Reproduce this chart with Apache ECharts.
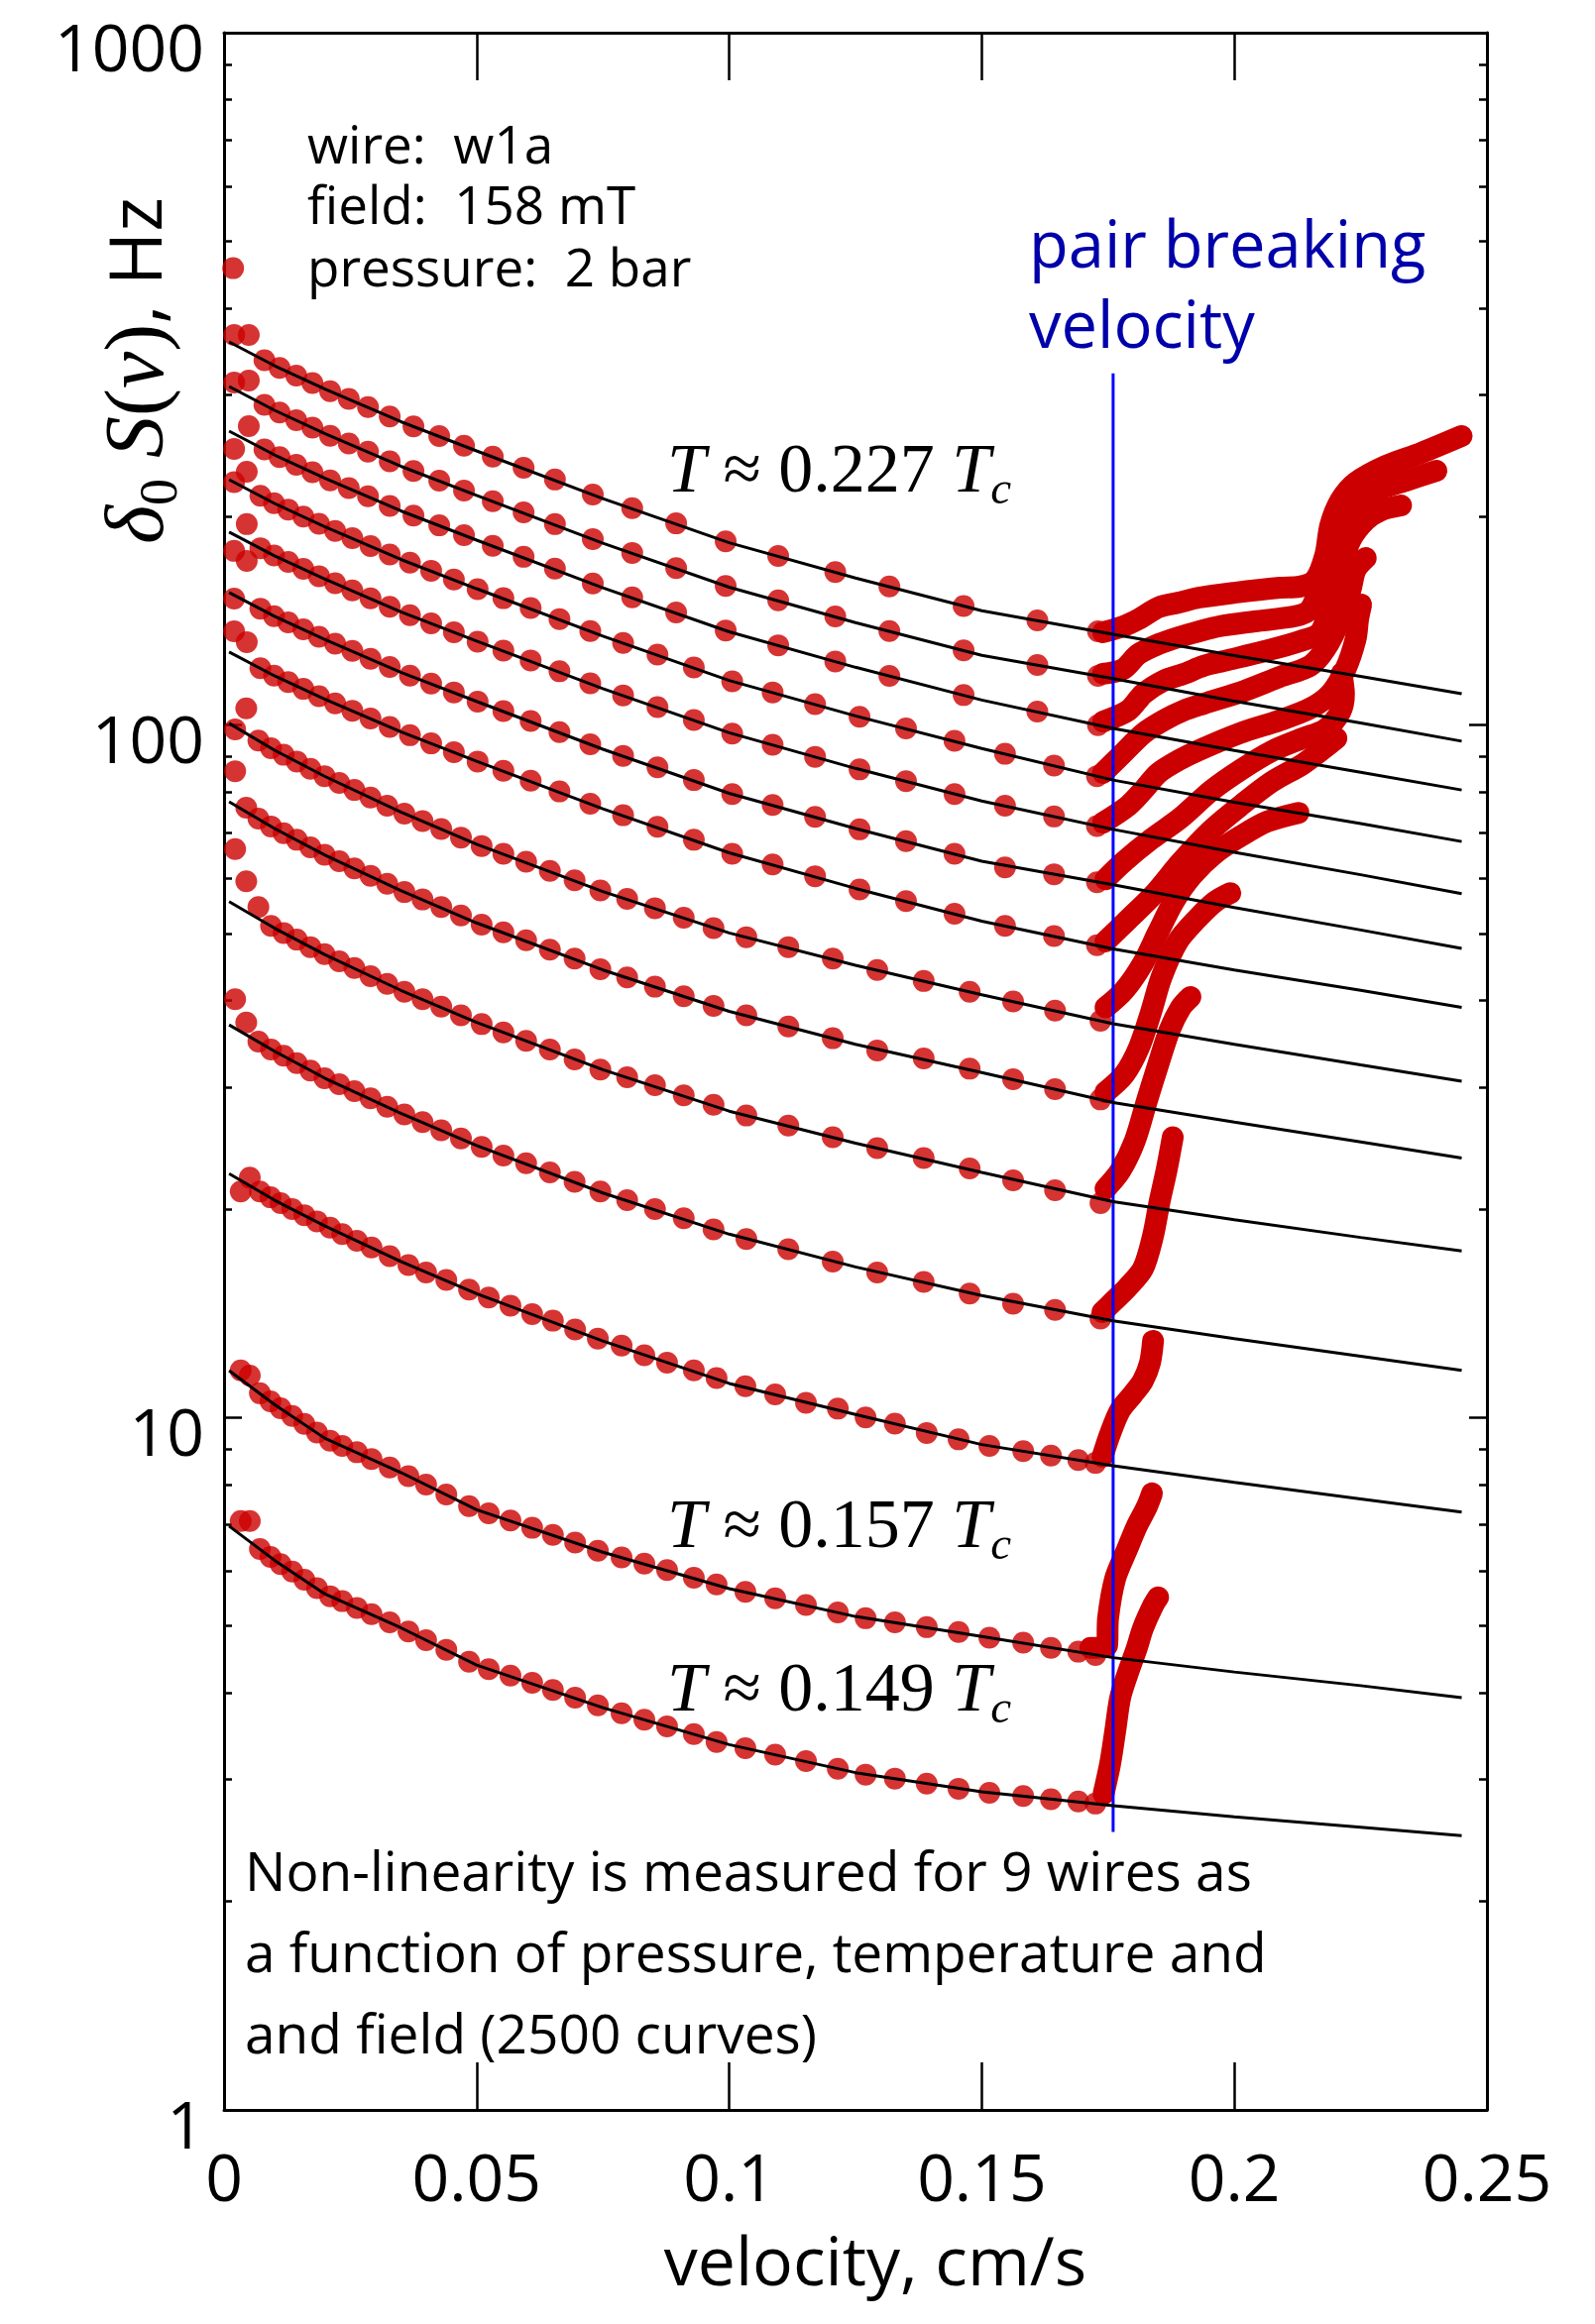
<!DOCTYPE html>
<html>
<head>
<meta charset="utf-8">
<script src="https://cdn.jsdelivr.net/npm/echarts@6/dist/echarts.min.js"></script>
<style>
  html, body { margin: 0; padding: 0; background: #fff; }
  #chart { width: 1609px; height: 2345px; }
</style>
</head>
<body>
<div id="chart"></div>
<script>
// velocity grid of the black fit curves (cm/s)
var fitV = [0.001, 0.01, 0.02, 0.035, 0.05, 0.075, 0.1, 0.125, 0.15, 0.176, 0.2, 0.225, 0.245];

// fit curves, top (T = 0.227 Tc) to bottom (T = 0.149 Tc), Hz
var fitLines = [
  [357.6, 330.4, 305.7, 274.3, 248.9, 212.4, 183.4, 163.1, 146.3, 135.3, 126.0, 117.6, 111.0],
  [308.3, 284.9, 263.6, 236.5, 214.6, 183.1, 158.2, 140.6, 126.1, 116.7, 108.3, 100.7, 94.8],
  [265.8, 245.6, 227.3, 203.9, 185.0, 157.9, 136.4, 121.2, 108.7, 98.9, 91.9, 85.5, 80.6],
  [226.2, 209.0, 193.4, 173.5, 157.4, 134.4, 116.0, 103.1, 92.5, 83.3, 77.4, 72.1, 67.9],
  [190.0, 175.6, 162.5, 145.7, 132.2, 112.9, 97.5, 86.6, 77.7, 70.7, 65.5, 60.8, 57.1],
  [155.4, 143.6, 132.9, 119.2, 108.2, 92.3, 79.7, 70.9, 63.6, 58.8, 54.5, 50.6, 47.6],
  [127.5, 117.8, 109.0, 97.8, 88.7, 75.7, 65.4, 58.1, 52.1, 47.5, 44.3, 41.4, 39.1],
  [100.6, 92.0, 84.3, 74.9, 67.3, 57.5, 50.1, 45.0, 40.8, 37.05, 34.6, 32.3, 30.6],
  [77.5, 70.9, 64.9, 57.7, 51.8, 44.3, 38.6, 34.6, 31.5, 28.5, 26.7, 25.0, 23.7],
  [55.6, 50.9, 46.6, 41.4, 37.2, 31.8, 27.7, 24.9, 22.6, 20.5, 19.3, 18.2, 17.4],
  [36.9, 33.8, 30.9, 27.5, 24.7, 21.1, 18.4, 16.5, 15.0, 13.79, 13.0, 12.26, 11.7],
  [22.5, 20.6, 18.9, 16.8, 15.1, 12.9, 11.2, 10.1, 9.14, 8.52, 8.06, 7.63, 7.30],
  [11.69, 10.44, 9.33, 8.33, 7.36, 6.39, 5.66, 5.16, 4.83, 4.50, 4.29, 4.10, 3.94],
  [6.97, 6.22, 5.56, 4.97, 4.39, 3.81, 3.37, 3.07, 2.88, 2.75, 2.65, 2.56, 2.49]
];

// drive velocities of the measured points below pair breaking
var velA = [0.002, 0.0049, 0.008, 0.011, 0.0143, 0.0175, 0.021, 0.0247, 0.0285, 0.0328, 0.0375, 0.0426, 0.0475,
  0.0532, 0.0593, 0.0655, 0.073, 0.0808, 0.0895, 0.0993, 0.1097, 0.121, 0.1317, 0.1464, 0.161, 0.173];
var velB = [0.002, 0.0045, 0.0072, 0.0099, 0.0127, 0.0157, 0.0188, 0.022, 0.0254, 0.029, 0.0328, 0.0368, 0.041,
  0.0455, 0.0502, 0.0553, 0.0607, 0.0664, 0.0725, 0.079, 0.0858, 0.093, 0.1006, 0.1086, 0.117, 0.1258, 0.135,
  0.1446, 0.1546, 0.1643, 0.1728];
var velC = [0.0022, 0.0044, 0.0068, 0.0093, 0.0118, 0.0144, 0.0171, 0.0199, 0.0228, 0.0258, 0.029, 0.0323, 0.0357,
  0.0393, 0.043, 0.0469, 0.051, 0.0553, 0.0598, 0.0645, 0.0694, 0.0745, 0.0798, 0.0853, 0.091, 0.0969, 0.1034,
  0.1117, 0.1205, 0.1293, 0.1385, 0.1476, 0.1562, 0.1645, 0.1735];
var velD = [0.0033, 0.0051, 0.0071, 0.0092, 0.0112, 0.0135, 0.0159, 0.0184, 0.021, 0.0234, 0.0263, 0.0292, 0.0328,
  0.0365, 0.04, 0.044, 0.0485, 0.0524, 0.0567, 0.061, 0.0651, 0.0695, 0.074, 0.0787, 0.0832, 0.0877, 0.093,
  0.0975, 0.1032, 0.1091, 0.1152, 0.1215, 0.127, 0.1328, 0.1391, 0.1454, 0.1515, 0.1582, 0.1637, 0.1691, 0.1725];
var velOf = [velA, velA, velA, velB, velB, velB, velB, velC, velC, velC, velC, velD, velD, velD];

// measured S(v) below pair breaking, Hz
var dotY = [
  [366, 366, 336.5, 327.9, 319.8, 311.9, 303.6, 295.9, 287.9, 279.0, 270.1, 261.5, 253.2, 244.2, 235.3, 226.3, 215.3, 205.7, 195.6, 184.2, 175.5, 166.4, 158.6, 148.6, 141.7, 136.6],
  [312.5, 314.6, 290.1, 282.8, 275.7, 268.9, 261.8, 255.1, 248.2, 240.4, 232.8, 225.4, 218.2, 210.6, 202.9, 195.1, 185.6, 177.3, 168.6, 158.8, 151.4, 143.5, 136.7, 128.2, 122.1, 117.8],
  [250.6, 270.3, 250.1, 243.8, 237.7, 231.9, 225.7, 220.0, 214.0, 207.3, 200.7, 194.3, 188.1, 181.5, 175.0, 168.3, 160.2, 152.9, 145.4, 137.0, 130.4, 123.6, 117.8, 110.5, 104.6, 100.0],
  [224.3, 232.3, 214.4, 209.2, 204.8, 200.1, 195.3, 190.7, 186.2, 181.4, 176.4, 171.6, 167.1, 162.3, 157.2, 152.5, 147.6, 142.3, 136.7, 131.4, 126.4, 121.1, 115.7, 111.5, 107.2, 102.8, 98.9, 94.9, 90.9, 87.4, 84.4],
  [178.5, 195.1, 180.1, 175.8, 172.1, 168.1, 164.1, 160.3, 156.5, 152.4, 148.2, 144.1, 140.3, 136.2, 132.0, 128.1, 124.0, 119.6, 114.9, 110.4, 106.2, 101.7, 97.2, 93.7, 90.0, 86.3, 83.0, 79.5, 76.5, 73.8, 71.5],
  [152.3, 172.7, 147.3, 143.7, 140.7, 137.5, 134.2, 131.1, 128.0, 124.7, 121.3, 117.9, 114.8, 111.5, 108.1, 104.8, 101.4, 97.7, 93.8, 90.3, 86.9, 83.3, 79.5, 76.7, 73.7, 70.7, 68.0, 65.2, 62.3, 60.9, 59.3],
  [136.6, 131.8, 120.8, 117.9, 115.4, 112.8, 110.1, 107.5, 104.9, 102.2, 99.4, 96.7, 94.1, 91.4, 88.6, 85.9, 83.1, 80.2, 77.0, 74.1, 71.3, 68.3, 65.2, 62.9, 60.5, 57.9, 55.7, 53.4, 51.3, 49.6, 48.1],
  [98.6, 105.7, 95.0, 92.6, 90.6, 88.6, 86.5, 84.4, 82.5, 80.6, 78.6, 76.5, 74.5, 72.7, 70.8, 68.8, 66.9, 65.2, 63.5, 61.6, 59.7, 57.7, 56.1, 54.4, 52.7, 50.9, 49.4, 47.8, 46.0, 44.3, 42.7, 41.2, 39.9, 38.7, 37.4],
  [85.8, 76.0, 73.3, 71.4, 69.8, 68.3, 66.6, 65.0, 63.6, 62.1, 60.6, 59.0, 57.4, 56.0, 54.6, 53.1, 51.5, 50.2, 48.9, 47.4, 46.0, 44.4, 43.2, 41.9, 40.6, 39.3, 38.1, 36.7, 35.3, 33.9, 33.0, 31.9, 30.8, 29.8, 28.8],
  [66.2, 59.5, 54.6, 51.3, 50.1, 49.0, 47.8, 46.7, 45.6, 44.6, 43.4, 42.3, 41.2, 40.2, 39.2, 38.1, 37.0, 36.0, 35.0, 34.0, 32.9, 31.8, 31.0, 30.2, 29.2, 28.3, 27.3, 26.4, 25.4, 24.5, 23.7, 22.9, 22.0, 21.3, 20.4],
  [40.2, 37.2, 34.9, 34.0, 33.3, 32.5, 31.7, 30.9, 30.3, 29.6, 28.9, 28.1, 27.4, 26.7, 26.0, 25.3, 24.6, 23.9, 23.3, 22.6, 21.9, 21.2, 20.6, 20.0, 19.4, 18.7, 18.1, 17.5, 16.8, 16.2, 15.7, 15.1, 14.6, 14.3, 13.9],
  [21.2, 22.2, 21.2, 20.8, 20.4, 20.0, 19.6, 19.2, 18.8, 18.4, 18.0, 17.6, 17.1, 16.6, 16.2, 15.8, 15.3, 14.9, 14.5, 14.1, 13.8, 13.4, 13.0, 12.7, 12.3, 12.0, 11.7, 11.4, 11.1, 10.8, 10.5, 10.3, 10.0, 9.8, 9.5, 9.3, 9.10, 8.94, 8.81, 8.68, 8.60],
  [11.7, 11.5, 10.84, 10.55, 10.31, 10.05, 9.79, 9.51, 9.26, 9.10, 8.91, 8.71, 8.47, 8.23, 8.00, 7.74, 7.45, 7.27, 7.10, 6.93, 6.77, 6.60, 6.42, 6.28, 6.15, 6.02, 5.87, 5.74, 5.60, 5.48, 5.36, 5.23, 5.13, 5.06, 4.98, 4.90, 4.81, 4.73, 4.65, 4.59, 4.54],
  [7.09, 7.09, 6.46, 6.29, 6.14, 5.99, 5.83, 5.67, 5.52, 5.43, 5.31, 5.20, 5.06, 4.91, 4.77, 4.62, 4.44, 4.33, 4.24, 4.14, 4.04, 3.94, 3.84, 3.74, 3.66, 3.58, 3.49, 3.40, 3.33, 3.26, 3.19, 3.11, 3.05, 3.01, 2.96, 2.91, 2.87, 2.84, 2.81, 2.79, 2.77]
];

// one stray point at the very start of the top curve
var strayDots = [[0.0018, 457]];

// dense points above pair breaking [v, Hz], drawn as a continuous band
var rise = [
  [[0.174,136.2],[0.178,138.9],[0.181,142.2],[0.185,147.9],[0.189,150.3],[0.193,152.8],[0.200,155.3],[0.209,157.9],[0.213,158.5],[0.216,162.2],[0.218,176.1],[0.219,194.4],[0.221,211.1],[0.224,224.0],[0.230,236.9],[0.237,247.3],[0.245,261.5]],
  [[0.174,118.6],[0.178,120.5],[0.181,126.6],[0.185,130.9],[0.189,134.0],[0.193,136.6],[0.197,138.9],[0.204,141.2],[0.212,143.6],[0.215,146.9],[0.217,159.5],[0.219,176.1],[0.221,194.4],[0.224,207.6],[0.228,218.2],[0.234,225.5],[0.240,233.0]],
  [[0.174,101.2],[0.179,105.0],[0.182,111.0],[0.186,115.9],[0.190,118.6],[0.194,121.8],[0.198,123.8],[0.206,127.9],[0.213,132.2],[0.217,136.2],[0.219,149.3],[0.221,167.6],[0.223,185.0],[0.226,197.6],[0.229,204.2],[0.233,207.6]],
  [[0.174,85.3],[0.177,89.6],[0.182,97.3],[0.186,101.6],[0.190,105.0],[0.194,107.4],[0.202,112.1],[0.209,117.4],[0.215,121.8],[0.218,128.8],[0.221,142.2],[0.223,156.9],[0.224,167.6],[0.226,174.3]],
  [[0.174,72.3],[0.179,76.5],[0.182,80.6],[0.185,85.3],[0.189,89.0],[0.193,92.0],[0.201,97.3],[0.209,101.6],[0.215,105.7],[0.219,111.0],[0.222,120.5],[0.224,133.1],[0.2245,142.2],[0.2251,149.3]],
  [[0.1745,59.9],[0.178,63.4],[0.1835,68.4],[0.1894,73.5],[0.1954,80.4],[0.2015,86.4],[0.2074,91.7],[0.2135,95.7],[0.218,98.6],[0.221,104.6],[0.2217,111.0],[0.2212,118.6]],
  [[0.1745,48.7],[0.179,52.4],[0.1843,57.2],[0.1894,63.4],[0.1954,70.5],[0.2015,76.8],[0.2074,82.8],[0.2135,87.8],[0.218,92.9],[0.2202,95.7]],
  [[0.1745,39.1],[0.1782,41.4],[0.1819,45.3],[0.1849,50.2],[0.188,55.6],[0.1917,60.7],[0.1962,65.3],[0.2015,69.3],[0.2066,72.6],[0.2127,74.7]],
  [[0.1745,29.5],[0.1782,31.3],[0.1811,34.2],[0.1835,38.5],[0.1856,43.3],[0.1888,48.7],[0.1925,52.4],[0.1962,55.6],[0.1992,57.2]],
  [[0.1745,21.4],[0.1774,22.7],[0.1803,25.1],[0.1827,28.7],[0.1849,32.3],[0.1872,36.3],[0.1894,39.1],[0.1913,40.5]],
  [[0.1739,14.2],[0.176,14.7],[0.1788,15.4],[0.1819,16.4],[0.1839,18.3],[0.1852,20.5],[0.1866,22.8],[0.1878,25.4]],
  [[0.1739,8.78],[0.1754,9.47],[0.1774,10.25],[0.1799,10.8],[0.1819,11.3],[0.1833,12.0],[0.1839,12.9]],
  [[0.1715,4.65],[0.1748,4.68],[0.175,5.13],[0.1764,5.85],[0.1788,6.46],[0.1807,6.97],[0.1827,7.44],[0.1837,7.77]],
  [[0.1741,2.86],[0.1754,3.16],[0.1764,3.52],[0.1774,3.94],[0.1788,4.25],[0.1807,4.65],[0.1819,4.96],[0.1839,5.35],[0.1849,5.50]]
];

// pair breaking velocity marker
var pairBreakV = 0.176;
var pairBreakSpan = [2.52, 322];

var majorTicks = [1, 10, 100, 1000];
var minorTicks = [2, 3, 4, 5, 6, 7, 8, 9, 20, 30, 40, 50, 60, 70, 80, 90, 200, 300, 400, 500, 600, 700, 800, 900];

var chart = echarts.init(document.getElementById('chart'));
var red = '#cc0000';
var sans = 'Open Sans';
var serif = 'Liberation Serif';

var series = [];
for (var i = 0; i < fitLines.length; i++) {
  var xs = velOf[i];
  series.push({
    type: 'scatter',
    data: xs.map(function (x, j) { return [x, dotY[this][j]]; }, i),
    symbolSize: 22,
    itemStyle: { color: red },
    z: 2
  });
  series.push({
    type: 'line',
    data: rise[i],
    symbol: 'none',
    smooth: 0.3,
    lineStyle: { color: red, width: 22, cap: 'round', join: 'round' },
    z: 2
  });
  series.push({
    type: 'line',
    data: fitV.map(function (x, j) { return [x, fitLines[this][j]]; }, i),
    symbol: 'none',
    smooth: false,
    lineStyle: { color: '#000', width: 3 },
    z: 5
  });
}
series.push({
  type: 'scatter',
  data: strayDots,
  symbolSize: 22,
  itemStyle: { color: red },
  z: 2
});
series.push({
  type: 'line',
  data: [[pairBreakV, pairBreakSpan[0]], [pairBreakV, pairBreakSpan[1]]],
  symbol: 'none',
  lineStyle: { color: '#0000ff', width: 3 },
  z: 4
});

function logAxis(pos, ticks, len, showLine, showLabel) {
  return {
    type: 'log',
    logBase: 10,
    min: 1,
    max: 1000,
    position: pos,
    axisLine: { show: showLine, lineStyle: { color: '#000', width: 3 } },
    axisTick: { show: true, inside: true, length: len, customValues: ticks, lineStyle: { color: '#000', width: 2.5 } },
    axisLabel: {
      show: showLabel,
      customValues: majorTicks,
      formatter: function (v) { return String(v); },
      fontSize: 66,
      fontFamily: sans,
      color: '#000',
      margin: 20,
      verticalAlign: 'top',
      lineHeight: 40
    },
    splitLine: { show: false },
    minorTick: { show: false }
  };
}

function velAxis(pos, showLabel) {
  return {
    type: 'value',
    min: 0,
    max: 0.25,
    interval: 0.05,
    position: pos,
    axisLine: { lineStyle: { color: '#000', width: 3 } },
    axisTick: { inside: true, length: 48, lineStyle: { color: '#000', width: 2.5 } },
    axisLabel: { show: showLabel, fontSize: 66, fontFamily: sans, color: '#000', margin: 40 },
    splitLine: { show: false }
  };
}

var xBottom = velAxis('bottom', true);
xBottom.name = 'velocity, cm/s';
xBottom.nameLocation = 'middle';
xBottom.nameGap = 124;
xBottom.nameTextStyle = { fontSize: 68, fontFamily: sans, color: '#000', padding: [0, 0, 0, 40] };

function tLabel(x, y, num) {
  return {
    type: 'text', x: x, y: y, z: 10,
    style: {
      text: '{m|T}{p| ≈ ' + num + ' }{m|T}{s|c}',
      verticalAlign: 'middle',
      rich: {
        m: { fontFamily: serif, fontStyle: 'italic', fontSize: 70, lineHeight: 82, fill: '#000' },
        p: { fontFamily: serif, fontSize: 70, lineHeight: 82, fill: '#000' },
        s: { fontFamily: serif, fontStyle: 'italic', fontSize: 47, lineHeight: 82, verticalAlign: 'bottom', fill: '#000' }
      }
    }
  };
}

function note(x, y, txt, size, color) {
  return { type: 'text', x: x, y: y, z: 10,
    style: { text: txt, font: size + 'px "Open Sans"', fill: color || '#000', verticalAlign: 'middle' } };
}

var option = {
  animation: false,
  backgroundColor: '#fff',
  grid: { left: 226, right: 109, top: 33, bottom: 216 },
  xAxis: [xBottom, velAxis('top', false)],
  yAxis: [
    logAxis('left', majorTicks, 18, true, true),
    logAxis('left', minorTicks, 8, false, false),
    logAxis('right', majorTicks, 18, true, false),
    logAxis('right', minorTicks, 8, false, false)
  ],
  graphic: [
    {
      type: 'text', x: 142, y: 374, rotation: Math.PI / 2, z: 10,
      style: {
        text: '{m|δ}{s|0}{m| S}{p|(}{m|v}{p|)}{h|, Hz}',
        align: 'center', verticalAlign: 'middle',
        rich: {
          m: { fontFamily: serif, fontStyle: 'italic', fontSize: 84, lineHeight: 98, fill: '#000' },
          s: { fontFamily: serif, fontSize: 54, lineHeight: 98, verticalAlign: 'bottom', fill: '#000' },
          p: { fontFamily: serif, fontSize: 84, lineHeight: 98, fill: '#000' },
          h: { fontFamily: sans, fontSize: 74, lineHeight: 98, fill: '#000' }
        }
      }
    },
    note(310, 150, 'wire:  w1a', 53),
    note(310, 211, 'field:  158 mT', 53),
    note(310, 274, 'pressure:  2 bar', 53),
    note(1038, 251, 'pair breaking', 65, '#0000aa'),
    note(1038, 332, 'velocity', 65, '#0000aa'),
    tLabel(673, 478, '0.227'),
    tLabel(673, 1543, '0.157'),
    tLabel(673, 1708, '0.149'),
    note(247, 1892, 'Non-linearity is measured for 9 wires as', 55),
    note(247, 1974, 'a function of pressure, temperature and', 55),
    note(247, 2056, 'and field (2500 curves)', 55)
  ],
  series: series
};

chart.setOption(option);
</script>
</body>
</html>
